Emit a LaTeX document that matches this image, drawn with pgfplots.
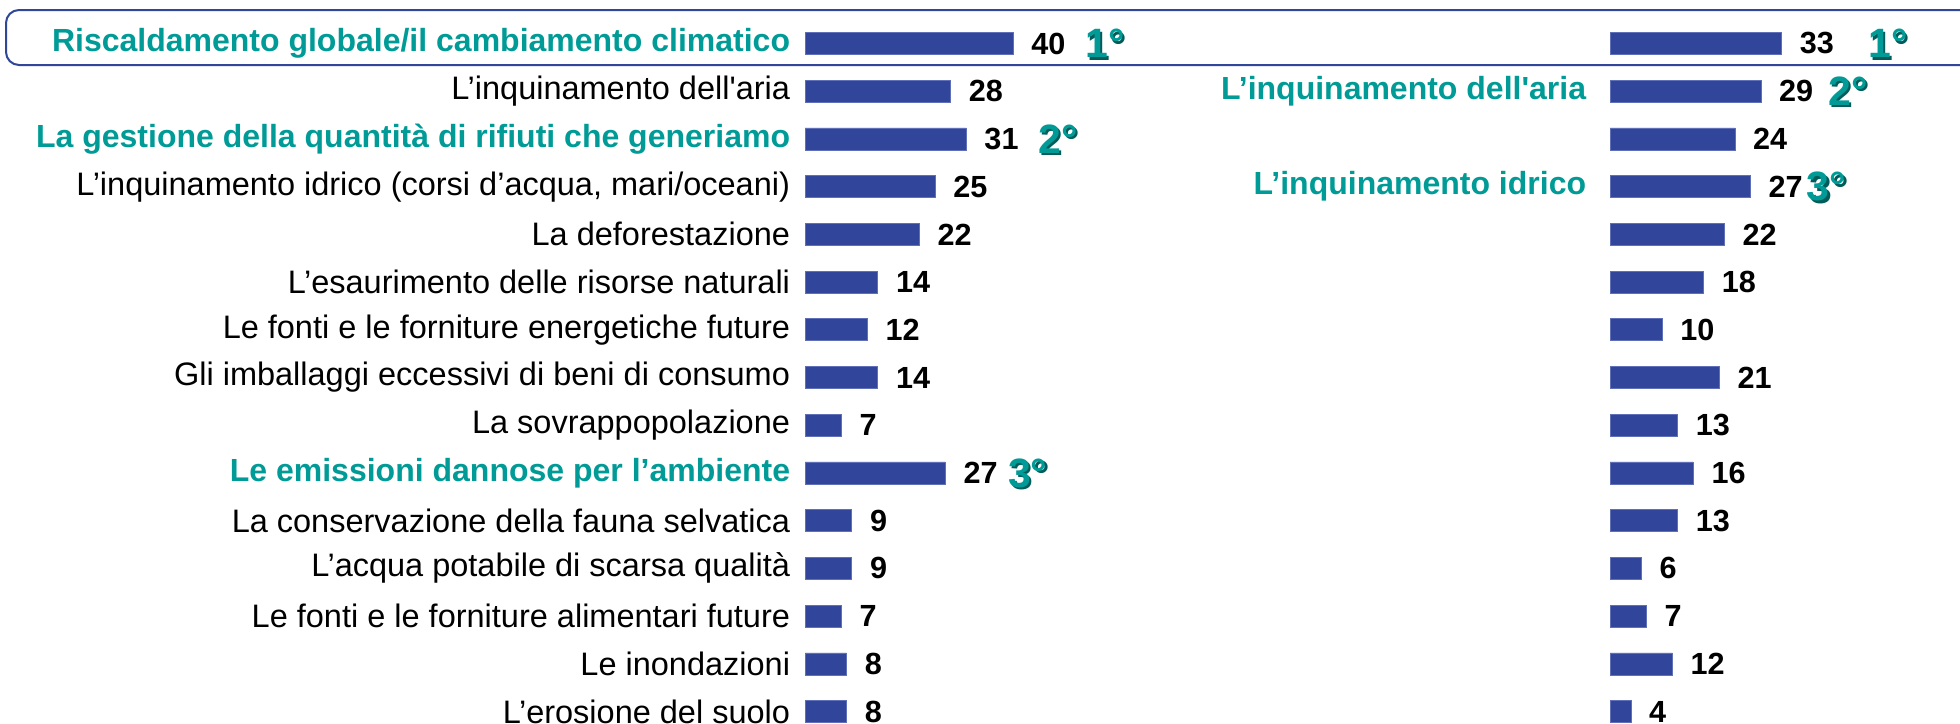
\documentclass[border=0pt]{standalone}
\usepackage{fontspec}
\setmainfont{Liberation Sans}[Ligatures=TeXOff]
\usepackage{pgfplots}
\pgfplotsset{compat=1.18}
\definecolor{barblue}{RGB}{49,70,155}
\definecolor{baredge}{RGB}{95,112,185}
\definecolor{tealA}{RGB}{0,155,150}
\definecolor{tealD}{RGB}{0,92,90}
\definecolor{boxblue}{RGB}{47,70,153}
\newcommand{\hl}[1]{{\fontsize{16pt}{18pt}\selectfont\textbf{\color{tealA}#1}}}
\pgfplotsset{
  mybars/.style={
    xbar, bar width=11pt, scale only axis, width=130pt, height=351.2pt,
    xmin=0, xmax=50, ymin=-0.5, ymax=14.22, y dir=reverse,
    /pgf/number format/assume math mode=true,
    axis line style={draw=none}, major tick style={draw=none}, xtick=\empty,
    ytick={0,...,14}, clip=false,
    nodes near coords,
    nodes near coords style={anchor=west, inner sep=0pt, xshift=9pt,
      font=\fontsize{15.3pt}{16pt}\selectfont\bfseries, text=black},
    yticklabel style={anchor=east, inner sep=0pt,
      font=\fontsize{16.25pt}{18pt}\selectfont},
  },
}
\tikzset{
  rankd/.style={anchor=west, inner sep=0pt, text=tealD, xshift=1.2pt, yshift=-1.2pt,
      font=\fontsize{20.5pt}{22pt}\selectfont\bfseries},
  ranku/.style={anchor=west, inner sep=0pt, text=tealA,
      font=\fontsize{20.5pt}{22pt}\selectfont\bfseries},
}
\begin{document}
\begin{tikzpicture}
\useasboundingbox (0,0) rectangle (980pt,-361.5pt);
\draw[boxblue, line width=1pt, rounded corners=6.5pt] (3pt,-5pt) rectangle (1000pt,-32.5pt);
% left panel
\begin{axis}[mybars, at={(402.5pt,-9.8pt)}, anchor=north west,
  yticklabel style={xshift=-3pt},
  yticklabels={
    {\hl{Riscaldamento globale/il cambiamento climatico}},
    {L’inquinamento dell'aria},
    {\hl{La gestione della quantità di rifiuti che generiamo}},
    {L’inquinamento idrico (corsi d’acqua, mari/oceani)},
    {La deforestazione},
    {L’esaurimento delle risorse naturali},
    {Le fonti e le forniture energetiche future},
    {Gli imballaggi eccessivi di beni di consumo},
    {La sovrappopolazione},
    {\hl{Le emissioni dannose per l’ambiente}},
    {La conservazione della fauna selvatica},
    {L’acqua potabile di scarsa qualità},
    {Le fonti e le forniture alimentari future},
    {Le inondazioni},
    {L’erosione del suolo}}]
\addplot[fill=barblue, draw=baredge, line width=0.3pt] coordinates {
  (40,0) (28,1) (31,2) (25,3) (22,4) (14,5) (12,6) (14,7) (7,8) (27,9)
  (9,10) (9,11) (7,12) (8,13) (8,14)};
\node[rankd] at (axis cs:53.85,0) {1°};
\node[ranku] at (axis cs:53.85,0) {1°};
\node[rankd] at (axis cs:44.8,2) {2°};
\node[ranku] at (axis cs:44.8,2) {2°};
\node[rankd] at (axis cs:39.0,9) {3°};
\node[ranku] at (axis cs:39.0,9) {3°};
\end{axis}
% right panel
\begin{axis}[mybars, at={(805pt,-9.8pt)}, anchor=north west,
  yticklabel style={xshift=-7.5pt},
  yticklabels={{}, {\hl{L’inquinamento dell'aria}}, {}, {\hl{L’inquinamento idrico}},
    {},{},{},{},{},{},{},{},{},{},{}}]
\addplot[fill=barblue, draw=baredge, line width=0.3pt] coordinates {
  (33,0) (29,1) (24,2) (27,3) (22,4) (18,5) (10,6) (21,7) (13,8) (16,9)
  (13,10) (6,11) (7,12) (12,13) (4,14)};
\node[rankd] at (axis cs:49.6,0) {1°};
\node[ranku] at (axis cs:49.6,0) {1°};
\node[rankd] at (axis cs:41.9,1) {2°};
\node[ranku] at (axis cs:41.9,1) {2°};
\node[rankd] at (axis cs:37.8,3) {3°};
\node[ranku] at (axis cs:37.8,3) {3°};
\end{axis}
\end{tikzpicture}
\end{document}
